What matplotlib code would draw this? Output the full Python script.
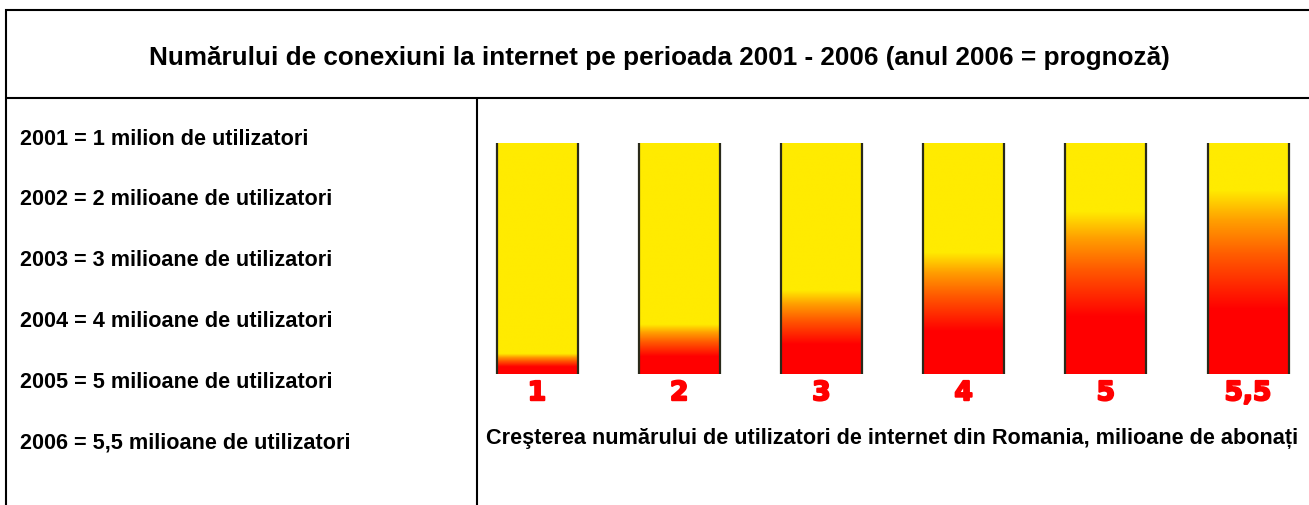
import numpy as np
import matplotlib
matplotlib.use("Agg")
import matplotlib.pyplot as plt
from matplotlib.colors import LinearSegmentedColormap
import matplotlib.patheffects as pe

plt.rcParams['font.family'] = ['Liberation Sans', 'DejaVu Sans']

# date
titlu = "Numărului de conexiuni la internet pe perioada 2001 - 2006 (anul 2006 = prognoză)"
ani = [2001, 2002, 2003, 2004, 2005, 2006]
utilizatori = [1, 2, 3, 4, 5, 5.5]
descrieri = ["2001 = 1 milion de utilizatori",
             "2002 = 2 milioane de utilizatori",
             "2003 = 3 milioane de utilizatori",
             "2004 = 4 milioane de utilizatori",
             "2005 = 5 milioane de utilizatori",
             "2006 = 5,5 milioane de utilizatori"]
etichete = ["1", "2", "3", "4", "5", "5,5"]
legenda = "Creşterea numărului de utilizatori de internet din Romania, milioane de abonați"

W, H = 1309, 506
fig = plt.figure(figsize=(W / 100, H / 100), dpi=100)

# strat de fundal in pixeli: chenar si texte
bg = fig.add_axes([0, 0, 1, 1])
bg.set_xlim(0, W)
bg.set_ylim(H, 0)
bg.axis('off')

lw = 1.5
bg.plot([5, W], [10.5, 10.5], color='black', lw=lw, solid_capstyle='butt')
bg.plot([5, W], [98.5, 98.5], color='black', lw=lw, solid_capstyle='butt')
bg.plot([5.5, 5.5], [10, H], color='black', lw=lw, solid_capstyle='butt')
bg.plot([476.5, 476.5], [98, H], color='black', lw=lw, solid_capstyle='butt')

bg.text(659, 58, titlu, ha='center', va='center', fontsize=18.8, fontweight='bold')

for k, s in enumerate(descrieri):
    bg.text(20, 139 + k * 60.8, s, ha='left', va='center', fontsize=15.6, fontweight='bold')

bg.text(892, 439, legenda, ha='center', va='center', fontsize=15.6, fontweight='bold')

# axa pentru coloane
px_unit = 142.2
x0_px = 537
left_px, right_px = 490, 1300
top_px, bot_px = 144, 375
ax = fig.add_axes([left_px / W, 1 - bot_px / H, (right_px - left_px) / W, (bot_px - top_px) / H])
ax.set_xlim((left_px - x0_px) / px_unit, (right_px - x0_px) / px_unit)
ax.set_ylim(0, 1)
ax.axis('off')

cmap = LinearSegmentedColormap.from_list(
    "rosu_galben", [(0.0, "#ff0000"), (0.45, "#ff5a00"), (0.75, "#ffa000"), (1.0, "#ffeb00")])

latime = 81 / px_unit
yy = np.linspace(0, 1, 400)
for i, v in enumerate(utilizatori):
    t = 0.087 * v ** 1.3          # nivelul de la care coloana devine galbena
    r = 0.35 * t                  # pana aici rosu plin
    f = np.clip((yy - r) / (t - r), 0, 1)
    img = cmap(f)[:, None, :]
    ax.imshow(img, extent=(i - latime / 2, i + latime / 2, 0, 1), origin='lower',
              aspect='auto', interpolation='bilinear', zorder=1)
    ax.vlines([i - latime / 2, i + latime / 2], 0, 1, color='#2a2a1a', lw=1.6, zorder=2)
    ax.text(i, -0.083, etichete[i], ha='center', va='center', fontsize=19,
            family='DejaVu Sans', fontweight='heavy', color='#ff0000',
            path_effects=[pe.withStroke(linewidth=1.5, foreground='#ff0000')], clip_on=False)

fig.savefig("out.png", dpi=100)
